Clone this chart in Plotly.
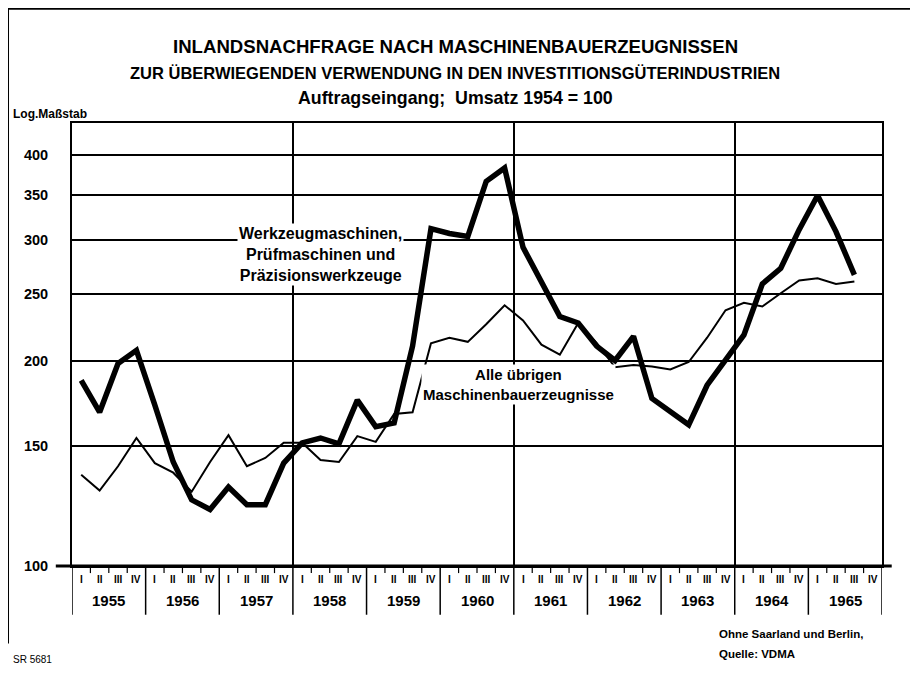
import plotly.graph_objects as go

# ---------------- data ----------------
years = [1955, 1956, 1957, 1958, 1959, 1960, 1961, 1962, 1963, 1964, 1965]
quarters = ["I", "II", "III", "IV"]

# Werkzeugmaschinen, Prüfmaschinen und Präzisionswerkzeuge (1955 I – 1965 III)
werkzeug = [187, 168, 198, 207,
            172, 142, 125, 121,
            130.5, 123, 123, 141.5,
            151.5, 154, 151, 175,
            160, 162, 210, 312,
            307, 304, 366, 383,
            293, 260, 232, 227,
            210, 200, 217, 176,
            168, 161, 184, 200,
            218, 259, 273, 311,
            349, 309, 267]

# Alle übrigen Maschinenbauerzeugnisse (1955 I – 1965 III)
uebrige = [136, 129, 140, 154,
           141.5, 137, 128.5, 142,
           155.5, 140, 144, 151.5,
           151.5, 143, 142, 155,
           152, 167, 168, 212,
           216, 213, 226, 241,
           229, 211, 204, 227,
           212, 195.5, 197, 196,
           194, 199, 216, 237,
           243, 240, 251, 262,
           264, 259, 261]

y_ticks = [100, 150, 200, 250, 300, 350, 400]

x_all = [y + (q + 0.5) / 4 for y in years for q in range(4)]
x_w = x_all[:len(werkzeug)]
x_u = x_all[:len(uebrige)]

FONT = "Liberation Sans, Arial, sans-serif"

fig = go.Figure()
fig.add_trace(go.Scatter(x=x_u, y=uebrige, mode="lines",
                         line=dict(color="black", width=2), showlegend=False))
fig.add_trace(go.Scatter(x=x_w, y=werkzeug, mode="lines",
                         line=dict(color="black", width=5.5), showlegend=False))

shapes = []
# year separators below axis
for b in years + [years[-1] + 1]:
    shapes.append(dict(type="line", xref="x", yref="paper", x0=b, x1=b,
                       y0=0, y1=-0.11, line=dict(color="black", width=1.5)))
# quarter ticks
for y in years:
    for q in range(1, 4):
        shapes.append(dict(type="line", xref="x", yref="paper", x0=y + q / 4, x1=y + q / 4,
                           y0=0, y1=-0.016, line=dict(color="black", width=1.2)))
# heavy base line (100)
shapes.append(dict(type="line", xref="paper", yref="paper", x0=-0.02, x1=1.012,
                   y0=0, y1=0, line=dict(color="black", width=3)))
# outer frame (left and top)
shapes.append(dict(type="line", xref="paper", yref="paper", x0=-0.079, x1=-0.079,
                   y0=-0.175, y1=1.262, line=dict(color="black", width=2)))
shapes.append(dict(type="line", xref="paper", yref="paper", x0=-0.079, x1=1.06,
                   y0=1.258, y1=1.258, line=dict(color="black", width=2)))


def txt(text, x, y, size, xref="paper", xanchor="center", align="center",
        bold=True, **kw):
    return dict(text=("<b>%s</b>" % text) if bold else text, xref=xref, yref="paper",
                x=x, y=y, xanchor=xanchor, yanchor="middle", align=align,
                showarrow=False, font=dict(family=FONT, size=size, color="black"), **kw)


ann = []
# titles
ann.append(txt("INLANDSNACHFRAGE NACH MASCHINENBAUERZEUGNISSEN", 0.473, 1.1716, 18.6))
ann.append(txt("ZUR ÜBERWIEGENDEN VERWENDUNG IN DEN INVESTITIONSGÜTERINDUSTRIEN",
               0.473, 1.1129, 16.5))
ann.append(txt("Auftragseingang;&nbsp; Umsatz 1954 = 100", 0.473, 1.0564, 17.8))
ann.append(txt("Log.Maßstab", -0.075, 1.0203, 12, xanchor="left"))
# series labels
ann.append(txt("Werkzeugmaschinen,<br>Prüfmaschinen und<br>Präzisionswerkzeuge",
               1958.38, 0.704, 16, xref="x", bgcolor="white", borderpad=1))
ann.append(txt("Alle übrigen<br>Maschinenbauerzeugnisse",
               1961.06, 0.4086, 15, xref="x", bgcolor="white", borderpad=1))
# x labels: quarters and years
for y in years:
    for q, lab in enumerate(quarters):
        ann.append(txt(lab, y + (q + 0.5) / 4, -0.03, 10, xref="x"))
    ann.append(txt(str(y), y + 0.5, -0.079, 15, xref="x"))
# notes
ann.append(txt("Ohne Saarland und Berlin,", 0.796, -0.1535, 11.5, xanchor="left"))
ann.append(txt("Quelle: VDMA", 0.796, -0.1986, 11.5, xanchor="left"))
ann.append(txt("SR 5681", -0.075, -0.212, 10, xanchor="left", bold=False))

# margins compensate for the 8px default page margin of the browser
fig.update_layout(
    width=918, height=674,
    margin=dict(l=64, r=44, t=115, b=116),
    paper_bgcolor="white", plot_bgcolor="white",
    shapes=shapes, annotations=ann, showlegend=False,
    xaxis=dict(range=[1955, 1966], tickvals=[1958, 1961, 1964], showticklabels=False,
               showgrid=True, gridcolor="black", gridwidth=1.5, ticks="",
               showline=True, mirror=True, linecolor="black", linewidth=2,
               zeroline=False, fixedrange=True),
    yaxis=dict(type="log", range=[2, 2.649], tickvals=y_ticks,
               ticktext=["<b>%d</b>" % v for v in y_ticks],
               tickfont=dict(family=FONT, size=14.5, color="black"),
               showgrid=True, gridcolor="black", gridwidth=1.5,
               ticks="", ticklabelstandoff=19,
               showline=True, mirror=True, linecolor="black", linewidth=2,
               zeroline=False, fixedrange=True),
)

fig.write_html("out.html")
